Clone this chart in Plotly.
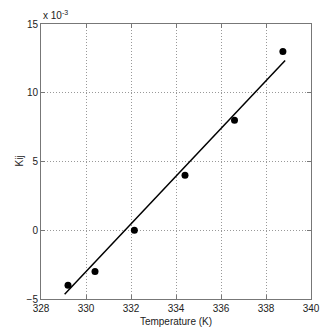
import plotly.graph_objects as go

# Data (Kij in units of 1e-3)
temp_pts = [329.2, 330.4, 332.15, 334.4, 336.6, 338.75]
kij_pts = [-4.0, -3.0, 0.0, 4.0, 8.0, 13.0]
fit_x = [329.05, 338.85]
fit_y = [-4.65, 12.35]
x_ticks = [328, 330, 332, 334, 336, 338, 340]
y_ticks = [-5, 0, 5, 10, 15]

FONT = "Liberation Sans, Arial"

fig = go.Figure()
fig.add_trace(go.Scatter(x=fit_x, y=fit_y, mode="lines",
                         line=dict(color="black", width=1.5), showlegend=False))
fig.add_trace(go.Scatter(x=temp_pts, y=kij_pts, mode="markers",
                         marker=dict(color="black", size=7), showlegend=False))

axis_common = dict(
    showline=True, linecolor="#777777", linewidth=1, mirror="ticks",
    ticks="inside", ticklen=4, tickcolor="#777777",
    showgrid=True, gridcolor="#999999", griddash="1px,2px", gridwidth=1,
    zeroline=False, automargin=False,
    tickfont=dict(family=FONT, size=10, color="#222222"),
)
fig.update_xaxes(range=[328, 340], tickvals=x_ticks, **axis_common,
                 title=dict(text="Temperature (K)",
                            font=dict(family=FONT, size=10, color="#222222")))
fig.update_yaxes(range=[-5, 15], tickvals=y_ticks, **axis_common)

fig.add_annotation(x=0, y=0.5, xref="paper", yref="paper", xanchor="center", yanchor="middle",
                   text="Kij", showarrow=False, textangle=-90, xshift=-22,
                   font=dict(family=FONT, size=10, color="#222222"))
fig.add_annotation(x=0, y=1, xref="paper", yref="paper", xanchor="left", yanchor="bottom",
                   text="x 10<sup>-3</sup>", showarrow=False, yshift=1,
                   font=dict(family=FONT, size=10, color="#222222"))

fig.update_layout(width=324, height=327, margin=dict(l=41, r=13, t=24, b=28),
                  plot_bgcolor="white", paper_bgcolor="white")
fig.write_html("out.html", config={"displayModeBar": False},
               post_script="document.body.style.margin='0';document.body.style.overflow='hidden';")
